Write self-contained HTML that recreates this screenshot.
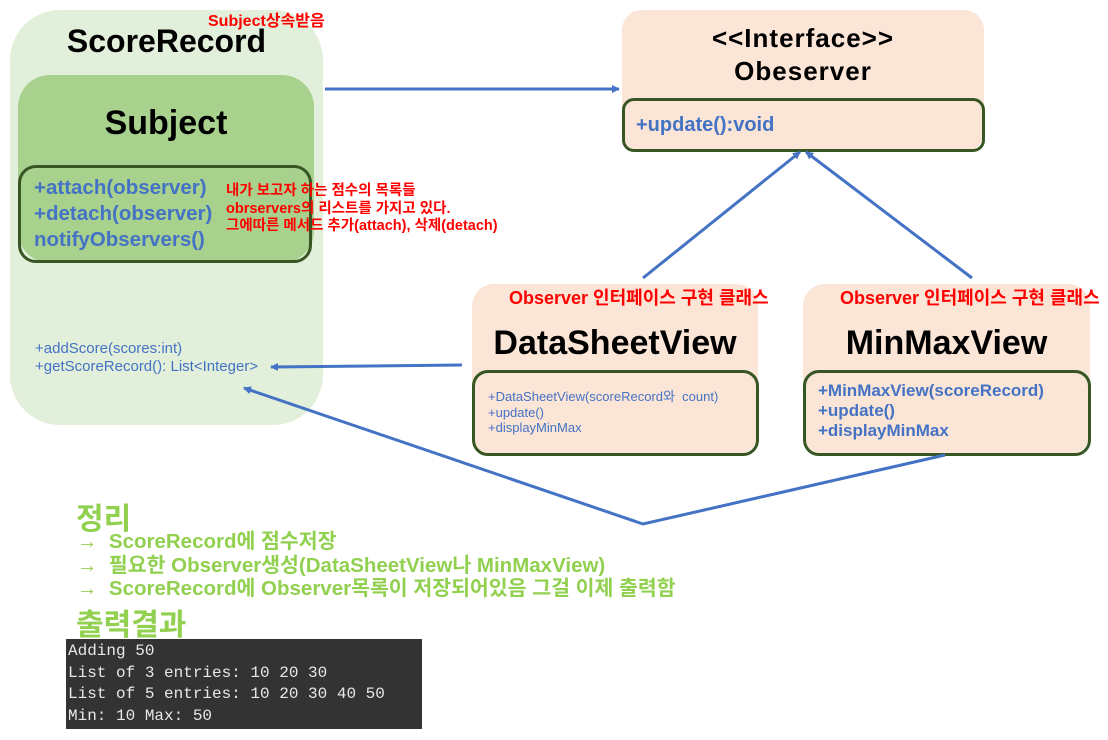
<!DOCTYPE html>
<html><head><meta charset="utf-8">
<style>
body{margin:0;width:1108px;height:740px;background:#fff;position:relative;overflow:hidden;font-family:"Liberation Sans","Noto Sans CJK KR",sans-serif;}
.a{position:absolute;white-space:nowrap;}
.box{position:absolute;box-sizing:border-box;}
.b{font-weight:bold;}
.blue{color:#4472c4;}
.red{color:#ff0000;font-weight:bold;}
.grn{color:#92d050;font-weight:bold;}
</style></head><body>
<!-- ScoreRecord -->
<div class="box" style="left:10px;top:10px;width:313px;height:415px;background:#e2efda;border-radius:50px;"></div>
<div class="a b" style="left:10px;width:313px;text-align:center;top:23px;font-size:32px;">ScoreRecord</div>
<div class="a red" style="left:208px;top:7px;font-size:16px;">Subject상속받음</div>
<div class="box" style="left:18px;top:75px;width:296px;height:188px;background:#a9d18e;border-radius:32px;"></div>
<div class="a b" style="left:18px;width:296px;text-align:center;top:104px;font-size:34px;">Subject</div>
<div class="box" style="left:18px;top:165px;width:294px;height:98px;border:3px solid #375623;border-radius:18px;"></div>
<div class="a b blue" style="left:34px;top:175px;font-size:20.5px;line-height:26px;">+attach(observer)<br>+detach(observer)<br>notifyObservers()</div>
<div class="a red" style="left:226px;top:183px;font-size:14.5px;line-height:17.5px;">내가 보고자 하는 점수의 목록들<br>obrservers의 리스트를 가지고 있다.<br>그에따른 메서드 추가(attach), 삭제(detach)</div>
<div class="a blue" style="left:35px;top:340px;font-size:15px;line-height:17.5px;">+addScore(scores:int)<br>+getScoreRecord(): List&lt;Integer&gt;</div>

<!-- Interface -->
<div class="box" style="left:622px;top:10px;width:362px;height:142px;background:#fbe5d6;border-radius:20px;"></div>
<div class="a b" style="left:622px;width:362px;text-align:center;top:22px;font-size:26px;line-height:33px;letter-spacing:1px;">&lt;&lt;Interface&gt;&gt;<br>Obeserver</div>
<div class="box" style="left:622px;top:98px;width:363px;height:54px;border:3px solid #375623;border-radius:12px;"></div>
<div class="a b blue" style="left:636px;top:114px;font-size:20px;">+update():void</div>

<!-- DataSheetView -->
<div class="box" style="left:472px;top:284px;width:286px;height:171px;background:#fbe5d6;border-radius:22px;"></div>
<div class="a red" style="left:509px;top:284px;font-size:18px;">Observer 인터페이스 구현 클래스</div>
<div class="a b" style="left:472px;width:286px;text-align:center;top:324px;font-size:34px;">DataSheetView</div>
<div class="box" style="left:472px;top:370px;width:287px;height:86px;border:3px solid #375623;border-radius:16px;"></div>
<div class="a blue" style="left:488px;top:389px;font-size:13px;line-height:15.5px;">+DataSheetView(scoreRecord와&nbsp; count)<br>+update()<br>+displayMinMax</div>

<!-- MinMaxView -->
<div class="box" style="left:803px;top:284px;width:287px;height:171px;background:#fbe5d6;border-radius:22px;"></div>
<div class="a red" style="left:840px;top:284px;font-size:18px;">Observer 인터페이스 구현 클래스</div>
<div class="a b" style="left:803px;width:287px;text-align:center;top:324px;font-size:34px;">MinMaxView</div>
<div class="box" style="left:803px;top:370px;width:288px;height:86px;border:3px solid #375623;border-radius:16px;"></div>
<div class="a b blue" style="left:818px;top:381px;font-size:17px;line-height:20px;">+MinMaxView(scoreRecord)<br>+update()<br>+displayMinMax</div>

<!-- connectors -->
<svg class="a" style="left:0;top:0" width="1108" height="740">
<defs><marker id="ar" markerWidth="8" markerHeight="8" refX="7" refY="4" orient="auto" markerUnits="userSpaceOnUse"><path d="M0,0 L8,4 L0,8 z" fill="#4472c4"/></marker></defs>
<g stroke="#4472c4" stroke-width="3" fill="none">
<line x1="325" y1="89" x2="619" y2="89" marker-end="url(#ar)"/>
<line x1="643" y1="278" x2="800" y2="152" marker-end="url(#ar)"/>
<line x1="972" y1="278" x2="806" y2="152" marker-end="url(#ar)"/>
<line x1="462" y1="365" x2="271" y2="367" marker-end="url(#ar)"/>
<polyline points="945,455 643,524 244,388" marker-end="url(#ar)"/>
</g></svg>

<!-- summary -->
<div class="a grn" style="left:76px;top:494px;font-size:30px;">정리</div>
<div class="a grn" style="left:77px;top:530px;font-size:20.5px;line-height:23.5px;">→&nbsp; ScoreRecord에 점수저장<br>→&nbsp; 필요한 Observer생성(DataSheetView나 MinMaxView)<br>→&nbsp; ScoreRecord에 Observer목록이 저장되어있음 그걸 이제 출력함</div>
<div class="a grn" style="left:76px;top:600px;font-size:30px;">출력결과</div>
<div class="box" style="left:66px;top:639px;width:356px;height:90px;background:#333333;"></div>
<div class="a" style="left:68px;top:641px;font-family:'Liberation Mono',monospace;font-size:16px;line-height:21.5px;color:#e8e8e8;">Adding 50<br>List of 3 entries: 10 20 30<br>List of 5 entries: 10 20 30 40 50<br>Min: 10 Max: 50</div>
</body></html>
